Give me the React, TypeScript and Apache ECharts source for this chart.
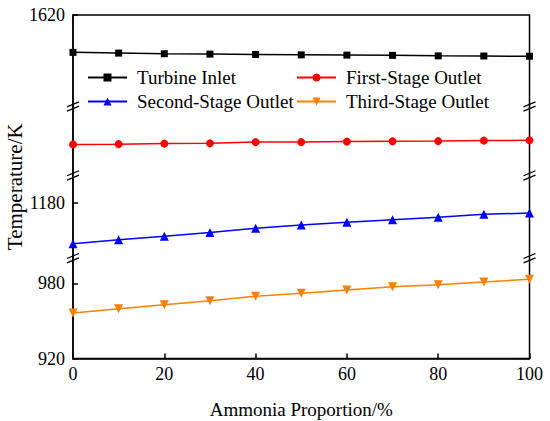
import React, { useEffect, useRef } from "react";
import * as echarts from "echarts";

const proportions = [0, 10, 20, 30, 40, 50, 60, 70, 80, 90, 100];
const turbineInlet = [1590.2, 1589.6, 1589.1, 1588.8, 1588.5, 1588.2, 1588.0, 1587.8, 1587.4, 1587.3, 1587.1];
const firstStageOutlet = [1364.8, 1365.0, 1365.4, 1365.6, 1366.6, 1366.6, 1367.0, 1367.2, 1367.4, 1367.8, 1368.0];
const secondStageOutlet = [1147.5, 1150.7, 1153.6, 1156.6, 1159.8, 1162.4, 1164.6, 1166.7, 1168.6, 1171.0, 1172.0];
const thirdStageOutlet = [956.2, 959.7, 962.9, 966.1, 969.6, 972.0, 974.6, 977.3, 978.9, 981.0, 983.2];
const yTickValues = [920, 980, 1180, 1620];
const yBreaks = [
  [1000, 1136],
  [1202, 1340],
  [1395, 1547],
];

const FONT = "Liberation Serif";

const pairs = (ys: number[]) => proportions.map((x, i) => [x, ys[i]]);

export default function App() {
  const ref = useRef<HTMLDivElement>(null);
  useEffect(() => {
    if (!ref.current) return;
    const chart = echarts.init(ref.current, null, { renderer: "svg" });
    const lineSeries = (name: string, ys: number[], color: string, symbol: string, size: number, rotate = 0) => ({
      name,
      type: "line",
      data: pairs(ys),
      symbol,
      symbolSize: size,
      symbolRotate: rotate,
      lineStyle: { color, width: 1.5 },
      itemStyle: { color },
      z: 3,
    });
    const legendBase = {
      orient: "vertical",
      top: 68,
      itemWidth: 39,
      itemHeight: 10,
      itemGap: 5,
      padding: 0,
      textStyle: { fontSize: 19, fontFamily: FONT, color: "#000", padding: [0, 0, 0, 5] },
    };
    chart.setOption({
      animation: false,
      backgroundColor: "#fff",
      grid: {
        left: 73,
        right: 20.5,
        top: 15,
        bottom: 62.5,
        outerBoundsMode: "none",
        containLabel: false,
        show: true,
        borderColor: "#000",
        borderWidth: 1.5,
        backgroundColor: "transparent",
      },
      legend: [
        { ...legendBase, left: 87, data: ["Turbine Inlet", "Second-Stage Outlet"] },
        { ...legendBase, left: 296, data: ["First-Stage Outlet", "Third-Stage Outlet"] },
      ],
      xAxis: {
        type: "value",
        min: 0,
        max: 100,
        interval: 20,
        name: "Ammonia Proportion/%",
        nameLocation: "middle",
        nameGap: 41,
        nameMoveOverlap: false,
        nameTextStyle: { fontSize: 19, fontFamily: FONT, color: "#000" },
        axisLine: { lineStyle: { color: "#000", width: 1.5 } },
        axisTick: { inside: true, length: 5, lineStyle: { color: "#000", width: 1.5 } },
        axisLabel: { fontSize: 18, fontFamily: FONT, color: "#000", margin: 6 },
        splitLine: { show: false },
      },
      yAxis: {
        type: "value",
        min: 920,
        max: 1620,
        name: "Temperature/K",
        nameLocation: "middle",
        nameGap: 48,
        nameMoveOverlap: false,
        nameTextStyle: { fontSize: 21, fontFamily: FONT, color: "#000" },
        breaks: yBreaks.map(([s, e]) => ({ start: s, end: e, gap: 0 })),
        breakArea: { show: false },
        axisLine: { show: true, lineStyle: { color: "#000", width: 1.5 } },
        axisTick: {
          inside: true,
          length: 5,
          customValues: yTickValues,
          lineStyle: { color: "#000", width: 1.5 },
        },
        axisLabel: {
          fontSize: 18,
          fontFamily: FONT,
          color: "#000",
          margin: 8,
          customValues: yTickValues,
          formatter: (v: number) => String(v),
        },
        splitLine: { show: false },
      },
      series: [
        lineSeries("Turbine Inlet", turbineInlet, "#000000", "rect", 7),
        lineSeries("First-Stage Outlet", firstStageOutlet, "#ff0000", "circle", 8),
        lineSeries("Second-Stage Outlet", secondStageOutlet, "#0000ff", "triangle", 9),
        lineSeries("Third-Stage Outlet", thirdStageOutlet, "#ff8000", "triangle", 9, 180),
      ],
    });

    // break marks "//" on left and right axis lines
    const xl = chart.convertToPixel({ xAxisIndex: 0 }, 0) as number;
    const xr = chart.convertToPixel({ xAxisIndex: 0 }, 100) as number;
    const marks: any[] = [];
    yBreaks.forEach(([s, e]) => {
      const ys = chart.convertToPixel({ yAxisIndex: 0 }, s) as number;
      const ye = chart.convertToPixel({ yAxisIndex: 0 }, e) as number;
      const b = (ys + ye) / 2;
      [xl, xr].forEach((ax) => {
        [-2.2, 2.2].forEach((off) => {
          marks.push({
            type: "line",
            shape: { x1: ax - 6, y1: b + off + 2.5, x2: ax + 6, y2: b + off - 2.5 },
            style: { stroke: "#000", lineWidth: 1.3 },
            z: 10,
          });
        });
      });
    });
    chart.setOption({ graphic: marks });

    return () => chart.dispose();
  }, []);
  return (
    <div
      ref={ref}
      style={{ position: "fixed", left: 0, top: 0, width: 550, height: 421, background: "#fff" }}
    />
  );
}
